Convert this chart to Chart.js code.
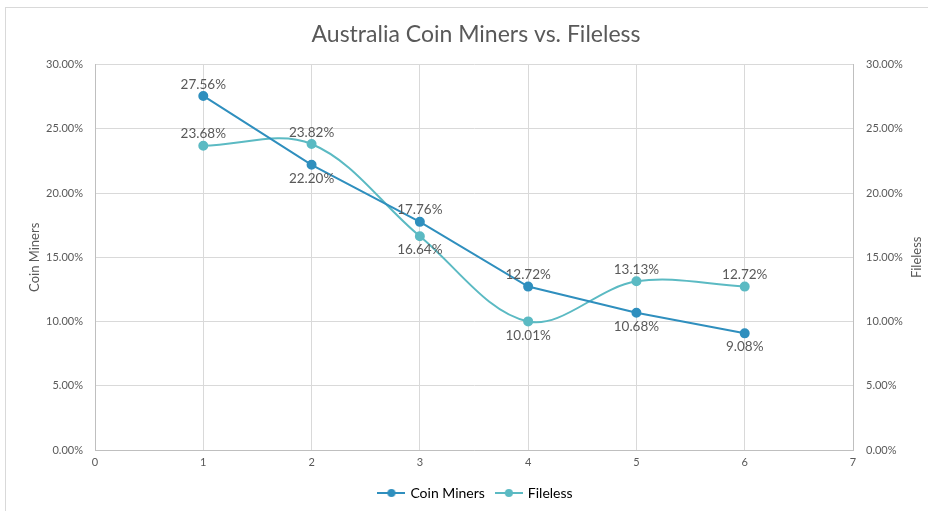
<!DOCTYPE html>
<html>
<head>
<meta charset="utf-8">
<script src="https://cdn.jsdelivr.net/npm/chart.js@4"></script>
<style>
  html, body { margin:0; padding:0; background:#fff; }
  #wrap { width:928px; height:511px; position:relative; }
</style>
</head>
<body>
<div id="wrap"><canvas id="chart"></canvas></div>
<script>
// ─── Data ──────────────────────────────────────────────────────────────────
const X_VALUES    = [1, 2, 3, 4, 5, 6];
const COIN_MINERS = [27.56, 22.20, 17.76, 12.72, 10.68, 9.08];
const FILELESS    = [23.68, 23.82, 16.64, 10.01, 13.13, 12.72];
// label placement relative to each point
const COIN_ALIGN  = ['top', 'bottom', 'top', 'top', 'bottom', 'bottom'];
const FILE_ALIGN  = ['top', 'top', 'bottom', 'bottom', 'top', 'top'];

const FONT = 'Lato, "Open Sans", sans-serif';
const GREY = '#595959';
const C_COIN = '#2f8fbe';
const C_FILE = '#5bbac3';

// legend marker: short line with a dot in the middle
function lineMarker(color) {
  const c = document.createElement('canvas');
  c.width = 28; c.height = 10;
  const g = c.getContext('2d');
  g.strokeStyle = color; g.fillStyle = color; g.lineWidth = 2;
  g.beginPath(); g.moveTo(0, 5); g.lineTo(28, 5); g.stroke();
  g.beginPath(); g.arc(14, 5, 4, 0, Math.PI * 2); g.fill();
  return c;
}

// outer chart frame (left + top edge only visible)
const framePlugin = {
  id: 'frame',
  beforeDraw(chart) {
    const ctx = chart.ctx;
    ctx.save();
    ctx.strokeStyle = '#d9d9d9';
    ctx.lineWidth = 1;
    ctx.strokeRect(5.5, 7.5, 1000, 1000);
    ctx.restore();
  }
};

// right axis title, reading bottom-to-top like the left one
const rightTitlePlugin = {
  id: 'rightTitle',
  afterDraw(chart) {
    const ctx = chart.ctx;
    const a = chart.chartArea;
    ctx.save();
    ctx.translate(chart.width - 11, (a.top + a.bottom) / 2);
    ctx.rotate(-Math.PI / 2);
    ctx.font = '13px ' + FONT;
    ctx.fillStyle = GREY;
    ctx.textAlign = 'center';
    ctx.textBaseline = 'middle';
    ctx.fillText('Fileless', 0, 0);
    ctx.restore();
  }
};

// value labels above / below points
const labelPlugin = {
  id: 'valueLabels',
  afterDatasetsDraw(chart) {
    const ctx = chart.ctx;
    ctx.save();
    ctx.font = '13.5px ' + FONT;
    ctx.fillStyle = GREY;
    ctx.textAlign = 'center';
    chart.data.datasets.forEach((ds, di) => {
      const meta = chart.getDatasetMeta(di);
      meta.data.forEach((pt, i) => {
        const v = ds.data[i].y;
        const up = ds.labelAlign[i] === 'top';
        ctx.textBaseline = up ? 'bottom' : 'top';
        ctx.fillText(v.toFixed(2) + '%', pt.x, up ? pt.y - 5 : pt.y + 7);
      });
    });
    ctx.restore();
  }
};

new Chart(document.getElementById('chart'), {
  type: 'line',
  data: {
    datasets: [
      {
        label: 'Coin Miners',
        data: X_VALUES.map((x, i) => ({ x: x, y: COIN_MINERS[i] })),
        labelAlign: COIN_ALIGN,
        borderColor: C_COIN,
        backgroundColor: C_COIN,
        borderWidth: 2,
        pointRadius: 4,
        pointHoverRadius: 4,
        tension: 0,
        yAxisID: 'y',
      },
      {
        label: 'Fileless',
        data: X_VALUES.map((x, i) => ({ x: x, y: FILELESS[i] })),
        labelAlign: FILE_ALIGN,
        borderColor: C_FILE,
        backgroundColor: C_FILE,
        borderWidth: 2,
        pointRadius: 4,
        pointHoverRadius: 4,
        tension: 0.35,
        yAxisID: 'y2',
      }
    ]
  },
  options: {
    responsive: true,
    maintainAspectRatio: false,
    animation: false,
    layout: { padding: { left: 27, right: 3, top: 0, bottom: 1 } },
    plugins: {
      title: {
        display: true,
        text: 'Australia Coin Miners vs. Fileless',
        color: GREY,
        font: { family: FONT, size: 23, weight: 'normal' },
        padding: { top: 21, bottom: 16 }
      },
      legend: {
        position: 'bottom',
        labels: {
          color: GREY,
          font: { family: FONT, size: 14 },
          usePointStyle: true,
          pointStyleWidth: 24,
          boxHeight: 10,
          padding: 12,
          generateLabels: chart => chart.data.datasets.map((ds, i) => ({
            text: ds.label,
            fillStyle: ds.borderColor,
            strokeStyle: ds.borderColor,
            pointStyle: lineMarker(ds.borderColor),
            lineWidth: 0,
            datasetIndex: i
          }))
        }
      },
      tooltip: { enabled: false }
    },
    scales: {
      x: {
        type: 'linear',
        min: 0, max: 7,
        ticks: { stepSize: 1, color: GREY, font: { family: FONT, size: 11 }, padding: 6 },
        grid: { color: '#d9d9d9', drawTicks: false },
        border: { color: '#bfbfbf' },
        afterFit: s => { s.height = 24; }
      },
      y: {
        position: 'left',
        min: 0, max: 30,
        ticks: { stepSize: 5, color: GREY, font: { family: FONT, size: 11 }, padding: 12,
          callback: v => v.toFixed(2) + '%' },
        grid: { color: '#d9d9d9', drawTicks: false },
        border: { color: '#bfbfbf' },
        title: { display: true, text: 'Coin Miners', color: GREY, font: { family: FONT, size: 13 }, padding: 0 },
        afterFit: s => { s.width = 68; }
      },
      y2: {
        position: 'right',
        min: 0, max: 30,
        ticks: { stepSize: 5, color: GREY, font: { family: FONT, size: 11 }, padding: 8,
          callback: v => v.toFixed(2) + '%' },
        grid: { display: false, drawTicks: true, tickLength: 5, tickColor: '#bfbfbf' },
        border: { color: '#bfbfbf' },
        afterFit: s => { s.width = 72; }
      }
    }
  },
  plugins: [framePlugin, rightTitlePlugin, labelPlugin]
});
</script>
</body>
</html>
